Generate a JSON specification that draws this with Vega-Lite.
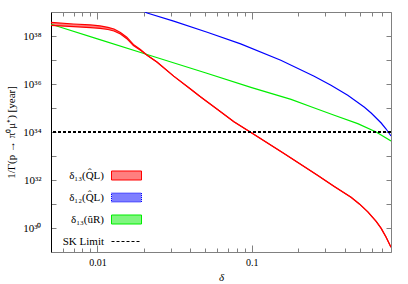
{
 "$schema": "https://vega.github.io/schema/vega-lite/v6.json",
 "width": 340, "height": 240,
 "autosize": "none",
 "padding": {"left": 51, "top": 12, "right": 17, "bottom": 32},
 "background": "white",
 "config": {"view": {"stroke": null}, "font": "Liberation Serif", "axis": {"grid": false}},
 "data": {"values": [
  {"s":"δ₁₃(Q̂L)","d":0.005,"v":3.715e38,"w":2.754e38},
  {"s":"δ₁₃(Q̂L)","d":0.007,"v":3.162e38,"w":2.455e38},
  {"s":"δ₁₃(Q̂L)","d":0.009,"v":2.884e38,"w":2.239e38},
  {"s":"δ₁₃(Q̂L)","d":0.0104,"v":2.630e38,"w":2.089e38},
  {"s":"δ₁₃(Q̂L)","d":0.0117,"v":2.291e38,"w":1.862e38},
  {"s":"δ₁₃(Q̂L)","d":0.0128,"v":1.950e38,"w":1.622e38},
  {"s":"δ₁₃(Q̂L)","d":0.0141,"v":1.413e38,"w":1.202e38},
  {"s":"δ₁₃(Q̂L)","d":0.0155,"v":8.913e37,"w":7.762e37},
  {"s":"δ₁₃(Q̂L)","d":0.0171,"v":4.467e37,"w":3.981e37},
  {"s":"δ₁₃(Q̂L)","d":0.019,"v":2.754e37,"w":2.570e37},
  {"s":"δ₁₃(Q̂L)","d":0.021,"v":1.585e37,"w":1.585e37},
  {"s":"δ₁₃(Q̂L)","d":0.0243,"v":8.318e36,"w":8.318e36},
  {"s":"δ₁₃(Q̂L)","d":0.0312,"v":2.13e36,"w":2.13e36},
  {"s":"δ₁₃(Q̂L)","d":0.0401,"v":6.25e35,"w":6.25e35},
  {"s":"δ₁₃(Q̂L)","d":0.0465,"v":2.951e35,"w":2.951e35},
  {"s":"δ₁₃(Q̂L)","d":0.0598,"v":8.913e34,"w":8.913e34},
  {"s":"δ₁₃(Q̂L)","d":0.0767,"v":2.692e34,"w":2.692e34},
  {"s":"δ₁₃(Q̂L)","d":0.0984,"v":9.772e33,"w":9.772e33},
  {"s":"δ₁₃(Q̂L)","d":0.162,"v":1.259e33,"w":1.259e33},
  {"s":"δ₁₃(Q̂L)","d":0.267,"v":1.585e32,"w":1.585e32},
  {"s":"δ₁₃(Q̂L)","d":0.343,"v":5.41e31,"w":5.41e31},
  {"s":"δ₁₃(Q̂L)","d":0.4406,"v":1.90e31,"w":1.90e31},
  {"s":"δ₁₃(Q̂L)","d":0.499,"v":1.009e31,"w":1.009e31},
  {"s":"δ₁₃(Q̂L)","d":0.566,"v":4.69e30,"w":4.69e30},
  {"s":"δ₁₃(Q̂L)","d":0.641,"v":1.884e30,"w":1.884e30},
  {"s":"δ₁₃(Q̂L)","d":0.691,"v":9.62e29,"w":9.62e29},
  {"s":"δ₁₃(Q̂L)","d":0.744,"v":4.10e29,"w":4.10e29},
  {"s":"δ₁₃(Q̂L)","d":0.8,"v":1.57e29,"w":1.57e29},
  {"s":"δ₁₂(Q̂L)","d":0.0195,"v":1.17e39},
  {"s":"δ₁₂(Q̂L)","d":0.021,"v":9.08e38},
  {"s":"δ₁₂(Q̂L)","d":0.0312,"v":4.14e38},
  {"s":"δ₁₂(Q̂L)","d":0.0515,"v":1.439e38},
  {"s":"δ₁₂(Q̂L)","d":0.0848,"v":4.69e37},
  {"s":"δ₁₂(Q̂L)","d":0.1544,"v":9.72e36},
  {"s":"δ₁₂(Q̂L)","d":0.2541,"v":2.094e36},
  {"s":"δ₁₂(Q̂L)","d":0.3265,"v":8.83e35},
  {"s":"δ₁₂(Q̂L)","d":0.4194,"v":3.38e35},
  {"s":"δ₁₂(Q̂L)","d":0.5383,"v":1.07e35},
  {"s":"δ₁₂(Q̂L)","d":0.5948,"v":6.17e34},
  {"s":"δ₁₂(Q̂L)","d":0.691,"v":2.37e34},
  {"s":"δ₁₂(Q̂L)","d":0.744,"v":1.334e34},
  {"s":"δ₁₂(Q̂L)","d":0.8,"v":6.81e33},
  {"s":"δ₁₃(ûR)","d":0.005,"v":3.090e38},
  {"s":"δ₁₃(ûR)","d":0.01,"v":7.586e37},
  {"s":"δ₁₃(ûR)","d":0.02,"v":1.862e37},
  {"s":"δ₁₃(ûR)","d":0.05,"v":2.951e36},
  {"s":"δ₁₃(ûR)","d":0.1,"v":7.079e35},
  {"s":"δ₁₃(ûR)","d":0.18,"v":2.291e35},
  {"s":"δ₁₃(ûR)","d":0.25,"v":1.047e35},
  {"s":"δ₁₃(ûR)","d":0.343,"v":5.012e34},
  {"s":"δ₁₃(ûR)","d":0.487,"v":2.239e34},
  {"s":"δ₁₃(ûR)","d":0.641,"v":1.0e34},
  {"s":"δ₁₃(ûR)","d":0.8,"v":4.266e33}
 ]},
 "layer": [
  {
   "transform": [{"filter": "datum.s === 'δ₁₃(Q̂L)'"}],
   "mark": {"type": "area", "opacity": 0.5, "clip": true},
   "encoding": {
    "x": {"field": "d", "type": "quantitative", "scale": {"type": "log", "domain": [0.005, 0.8], "nice": false}, "axis": null},
    "y": {"field": "v", "type": "quantitative", "scale": {"type": "log", "domain": [1e29, 1e39], "nice": false}, "axis": null},
    "y2": {"field": "w"},
    "color": {"field": "s", "type": "nominal", "scale": {"domain": ["δ₁₃(Q̂L)", "δ₁₂(Q̂L)", "δ₁₃(ûR)", "SK Limit"], "range": ["#ff0000", "#0000ff", "#00ee00", "#000000"]}}
   }
  },
  {
   "mark": {"type": "line", "strokeWidth": 1.2, "clip": true},
   "encoding": {
    "x": {"field": "d", "type": "quantitative", "axis": {
      "orient": "bottom",
      "values": [0.006,0.007,0.008,0.009,0.01,0.02,0.03,0.04,0.05,0.06,0.07,0.08,0.09,0.1,0.2,0.3,0.4,0.5,0.6,0.7,0.8],
      "labelExpr": "datum.value == 0.01 ? '0.01' : datum.value == 0.1 ? '0.1' : ''",
      "labelOverlap": false, "labelFlush": false,
      "tickSize": {"condition": {"test": "datum.value == 0.01 || datum.value == 0.1", "value": -7}, "value": -4},
      "labelPadding": 12,
      "labelFontSize": 10, "labelColor": "#000",
      "domainColor": "#808080", "tickColor": "#808080",
      "title": "δ", "titleFontStyle": "italic", "titleFontWeight": "normal", "titleFontSize": 11, "titlePadding": 1, "titleColor": "#000"
    }},
    "y": {"field": "v", "type": "quantitative", "axis": {
      "orient": "left",
      "values": [1e30,1e31,1e32,1e33,1e34,1e35,1e36,1e37,1e38],
      "labelExpr": "datum.value > 5e37 && datum.value < 5e38 ? '10³⁸' : datum.value > 5e35 && datum.value < 5e36 ? '10³⁶' : datum.value > 5e33 && datum.value < 5e34 ? '10³⁴' : datum.value > 5e31 && datum.value < 5e32 ? '10³²' : datum.value > 5e29 && datum.value < 5e30 ? '10³⁰' : ''",
      "labelOverlap": false, "labelFlush": false,
      "tickSize": -5, "labelPadding": 15,
      "labelFontSize": 11, "labelColor": "#000",
      "domainColor": "#000", "tickColor": "#808080",
      "title": "1/Γ(p → π⁰μ⁺) [year]", "titleFontWeight": "normal", "titleFontSize": 11, "titleColor": "#000", "titlePadding": 6
    }},
    "color": {"field": "s", "type": "nominal", "legend": {
      "orient": "none", "legendX": 60, "legendY": 148, "title": null, "padding": 0,
      "symbolType": "M-1,-0.3H1V0.3H-1Z", "symbolSize": 900, "symbolStrokeWidth": 1,
      "labelAlign": "right", "labelOffset": -38, "labelFontSize": 11, "labelFont": "Liberation Serif", "labelColor": "#000",
      "rowPadding": 0,
      "encode": {"symbols": {"update": {
        "fill": [{"test": "datum.value === 'SK Limit'", "value": "transparent"}, {"scale": "color", "field": "value"}],
        "fillOpacity": {"value": 0.5},
        "stroke": {"scale": "color", "field": "value"},
        "strokeDash": [{"test": "datum.value === 'SK Limit'", "value": [3, 2]}, {"test": "datum.value === 'δ₁₂(Q̂L)'", "value": [1, 1]}, {"value": []}],
        "shape": [{"test": "datum.value === 'SK Limit'", "value": "M-1,0H1"}, {"value": "M-1,-0.3H1V0.3H-1Z"}]
      }}}
    }}
   }
  },
  {
   "transform": [{"filter": "datum.s === 'δ₁₃(Q̂L)'"}],
   "mark": {"type": "line", "strokeWidth": 1.2, "clip": true},
   "encoding": {
    "x": {"field": "d", "type": "quantitative", "axis": {
      "orient": "top",
      "values": [0.006,0.007,0.008,0.009,0.01,0.02,0.03,0.04,0.05,0.06,0.07,0.08,0.09,0.1,0.2,0.3,0.4,0.5,0.6,0.7,0.8],
      "labels": false, "title": null,
      "tickSize": {"condition": {"test": "datum.value == 0.01 || datum.value == 0.1", "value": -7}, "value": -4},
      "domainColor": "#808080", "tickColor": "#808080"
    }},
    "y": {"field": "w", "type": "quantitative", "axis": {
      "orient": "right",
      "values": [1e30,1e31,1e32,1e33,1e34,1e35,1e36,1e37,1e38],
      "labels": false, "title": null, "tickSize": -5,
      "domainColor": "#808080", "tickColor": "#808080"
    }},
    "color": {"field": "s", "type": "nominal"}
   }
  },
  {
   "mark": {"type": "rule", "strokeDash": [3, 2], "strokeWidth": 1.3},
   "encoding": {
    "y": {"datum": 1e34, "type": "quantitative", "axis": null},
    "color": {"datum": "SK Limit"}
   }
  }
 ],
 "resolve": {"axis": {"x": "independent", "y": "independent"}}
}
